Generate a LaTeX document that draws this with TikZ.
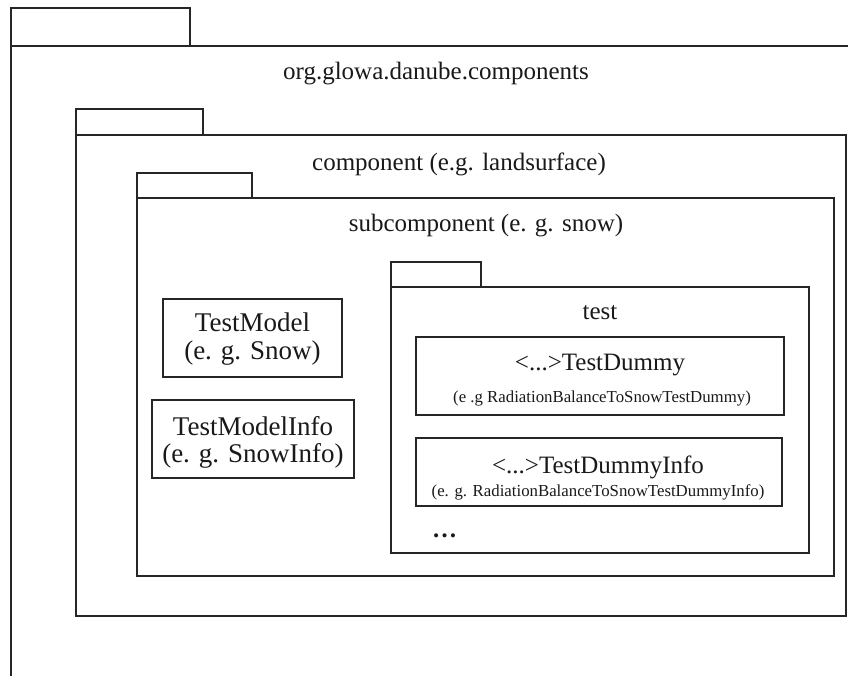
\documentclass[tikz,border=0pt]{standalone}
\usepackage{fontspec}
\setmainfont{Liberation Serif}
\begin{document}
\begin{tikzpicture}[x=1pt,y=-1pt,
  frame/.style={draw=black!85, line width=1.2pt},
  boxshape/.style={frame, rectangle, inner sep=0pt},
  lbl/.style={anchor=base, inner sep=0pt, text=black!90},
  headtext/.style={lbl, font=\fontsize{25}{30}\selectfont},
  bigtext/.style={lbl, font=\fontsize{27}{28}\selectfont},
  midtext/.style={lbl, font=\fontsize{25}{30}\selectfont},
  smalltext/.style={lbl, font=\fontsize{16.8}{20}\selectfont},
]
\useasboundingbox (0,0) rectangle (848,676);

% package org.glowa.danube.components (runs past the page edge)
\draw[frame] (11,8) rectangle (190,46);
\draw[frame] (848,46) -- (11,46) -- (11,676);
\node[headtext] (orgname) at (436,80) {org.glowa.danube.components};

% package component
\draw[frame] (76,109) rectangle (203,135);
\draw[frame] (76,135) rectangle (846,616);
\node[headtext] (compname) at (459,170.5) {component (e.g. landsurface)};

% package subcomponent
\draw[frame] (137,173) rectangle (252,198);
\draw[frame] (137,198) rectangle (834,576);
\node[headtext] (subname) at (486,231.5) {subcomponent (e. g. snow)};

% package test
\draw[frame] (391,262) rectangle (481,287);
\draw[frame] (391,287) rectangle (809,553);
\node[headtext] (testname) at (600,319) {test};

% classes in the subcomponent
\node[boxshape, minimum width=179pt, minimum height=78pt] (model) at (252.5,338) {};
\node[bigtext] (modelA) at (252.5,331.5) {TestModel};
\node[bigtext] (modelB) at (252.5,359.5) {(e. g. Snow)};

\node[boxshape, minimum width=202pt, minimum height=78pt] (info) at (253,439) {};
\node[bigtext] (infoA) at (253,435) {TestModelInfo};
\node[bigtext] (infoB) at (253,462.5) {(e. g. SnowInfo)};

% classes in the test package
\node[boxshape, minimum width=368pt, minimum height=78pt] (dummy) at (600,376) {};
\node[midtext] (dummyA) at (600,370) {<...>TestDummy};
\node[smalltext] (dummyB) at (602,402) {(e .g RadiationBalanceToSnowTestDummy)};

\node[boxshape, minimum width=366pt, minimum height=68pt] (dinfo) at (599,472) {};
\node[midtext] (dinfoA) at (598,473) {<...>TestDummyInfo};
\node[smalltext] (dinfoB) at (598,496.5) {(e. g. RadiationBalanceToSnowTestDummyInfo)};

\node[midtext, anchor=base west, font=\fontsize{25}{30}\selectfont\bfseries] (more) at (432,537) {…};
\end{tikzpicture}
\end{document}
